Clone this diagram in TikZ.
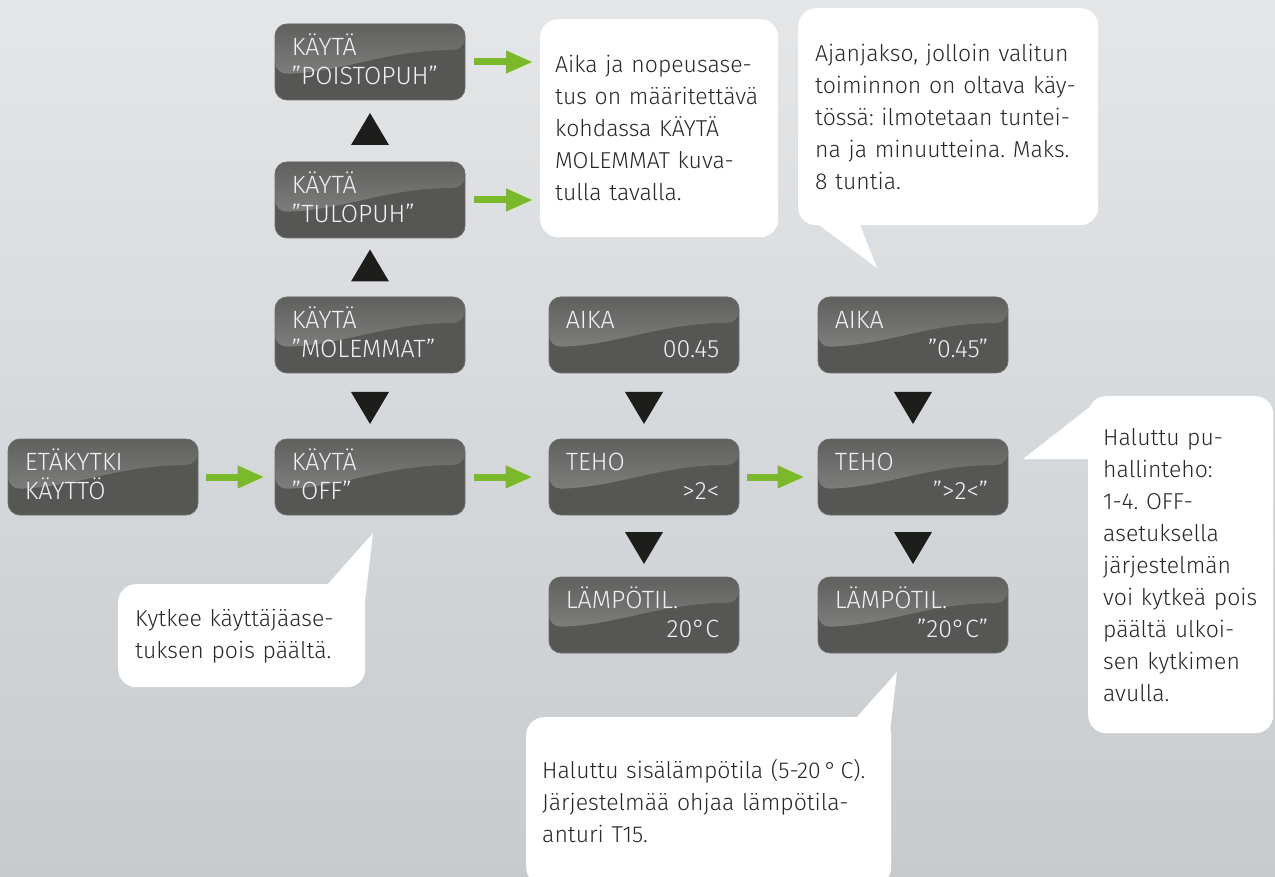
\documentclass[tikz,border=0pt]{standalone}
\usepackage{fontspec}
\setmainfont{Fira Sans Light}
\usetikzlibrary{calc,arrows.meta}
\definecolor{bgtop}{RGB}{228,230,232}
\definecolor{bgbot}{RGB}{199,203,206}
\definecolor{boxdark}{RGB}{86,86,85}
\definecolor{boxedge}{RGB}{110,110,109}
\definecolor{glosstop}{RGB}{96,96,95}
\definecolor{glossbot}{RGB}{140,140,139}
\definecolor{agreen}{RGB}{122,185,41}
\definecolor{tricol}{RGB}{29,29,27}
\definecolor{ctext}{RGB}{40,40,40}
\tikzset{
  dbox/.style={draw=boxedge, line width=0.8pt, fill=boxdark, rounded corners=12pt,
    minimum width=190pt, minimum height=76pt, inner sep=0pt,
    path picture={
      \shade[top color=glosstop, bottom color=glossbot]
        (path picture bounding box.north west) -- (path picture bounding box.north east)
        -- ($(path picture bounding box.north east)+(0,26)$)
        .. controls +(-80,0) and +(70,-2) .. ($(path picture bounding box.north west)+(0,50)$)
        -- cycle;
    }},
  dtext/.style={text=white!94!black, font=\fontsize{25}{28}\selectfont, inner sep=0pt},
  garrow/.style={draw=agreen, line width=7pt, -{Triangle[length=27pt,width=21pt]}},
  cbox/.style={fill=white, rounded corners=18pt, inner ysep=0pt, align=left,
    text=ctext, font=\fontsize{23}{32}\selectfont\frenchspacing, anchor=north west},
  ctail/.style={fill=white},
  pics/tup/.style={code={\fill[tricol] (-19,16) -- (19,16) -- (0,-16) -- cycle;}},
  pics/tdown/.style={code={\fill[tricol] (-19,-16) -- (19,-16) -- (0,16) -- cycle;}}
}
\newcommand\dispL[5]{%
  \node[dbox] (#1) at (#2+95,#3+38) {};
  \node[dtext, anchor=base west] (#1-a) at ($(#1.north west)+(17,32)$) {#4};
  \node[dtext, anchor=base west] (#1-b) at ($(#1.north west)+(17,61)$) {#5};
}
\newcommand\dispR[5]{%
  \node[dbox] (#1) at (#2+95,#3+38) {};
  \node[dtext, anchor=base west] (#1-a) at ($(#1.north west)+(17,32)$) {#4};
  \node[dtext, anchor=base east] (#1-b) at ($(#1.north east)+(-20,61)$) {#5};
}
\begin{document}
\begin{tikzpicture}[x=1pt,y=-1pt]
\useasboundingbox (0,0) rectangle (1275,877);
\shade[top color=bgtop, bottom color=bgbot] (0,0) rectangle (1275,877);

% callout tails
\fill[ctail] (848,727) -- (897,672) -- (889,740) -- cycle;
\fill[ctail] (320,593) -- (373,533) -- (364,610) -- cycle;
\fill[ctail] (800,211) -- (877,268) -- (856,215) -- cycle;
\fill[ctail] (1100,399) -- (1023,459) -- (1100,459) -- cycle;

% callouts
\node[cbox, inner xsep=15pt, text width=208pt, minimum height=218pt] (c1) at (540,19)
  {Aika ja nopeusase-\\tus on määritettävä\\kohdassa KÄYTÄ\\MOLEMMAT kuva-\\tulla tavalla.};
\node[cbox, inner xsep=17pt, text width=266pt, minimum height=217pt] (c2) at (798,8)
  {Ajanjakso, jolloin valitun\\toiminnon on oltava käy-\\tössä: ilmotetaan tuntei-\\na ja minuutteina. Maks.\\8 tuntia.};
\node[cbox, inner xsep=17pt, text width=213pt, minimum height=103pt] (c3) at (118,584)
  {Kytkee käyttäjäase-\\tuksen pois päältä.};
\node[cbox, inner xsep=16pt, text width=333pt, minimum height=168pt] (c4) at (526,717)
  {Haluttu sisälämpötila (5-20\,°\,C).\\Järjestelmää ohjaa lämpötila-\\anturi T15.};
\node[cbox, inner xsep=15pt, text width=155pt, minimum height=337pt] (c5) at (1088,396)
  {Haluttu pu-\\hallinteho:\\1-4. OFF-\\asetuksella\\järjestelmän\\voi kytkeä pois\\päältä ulkoi-\\sen kytkimen\\avulla.};

% display boxes
\dispL{etak}{8}{439}{ETÄKYTKI}{KÄYTTÖ}
\dispL{poisto}{275}{24}{KÄYTÄ}{”POISTOPUH”}
\dispL{tulo}{275}{162}{KÄYTÄ}{”TULOPUH”}
\dispL{molem}{275}{297}{KÄYTÄ}{”MOLEMMAT”}
\dispL{off}{275}{439}{KÄYTÄ}{”OFF”}
\dispR{aikaA}{549}{297}{AIKA}{00.45}
\dispR{tehoA}{549}{439}{TEHO}{>2<}
\dispR{tempA}{549}{577}{LÄMPÖTIL.}{20°C}
\dispR{aikaB}{818}{297}{AIKA}{”0.45”}
\dispR{tehoB}{818}{439}{TEHO}{”>2<”}
\dispR{tempB}{818}{577}{LÄMPÖTIL.}{”20°C”}

% triangles
\pic at ($(poisto.south)!0.5!(tulo.north)+(0,-2)$) {tup};
\pic at ($(tulo.south)!0.5!(molem.north)+(0,-2)$) {tup};
\pic at ($(molem.south)!0.5!(off.north)+(0,2)$) {tdown};
\pic at ($(aikaA.south)!0.5!(tehoA.north)+(0,2)$) {tdown};
\pic at ($(tehoA.south)!0.5!(tempA.north)+(0,2)$) {tdown};
\pic at ($(aikaB.south)!0.5!(tehoB.north)+(0,2)$) {tdown};
\pic at ($(tehoB.south)!0.5!(tempB.north)+(0,2)$) {tdown};

% green arrows
\draw[garrow, shorten <=9pt, shorten >=7pt] (poisto.east) -- (poisto.east -| c1.west);
\draw[garrow, shorten <=9pt, shorten >=7pt] (tulo.east) -- (tulo.east -| c1.west);
\draw[garrow, shorten <=8pt, shorten >=10pt] (etak.east) -- (off.west);
\draw[garrow, shorten <=9pt, shorten >=16pt] (off.east) -- (tehoA.west);
\draw[garrow, shorten <=8pt, shorten >=13pt] (tehoA.east) -- (tehoB.west);
\end{tikzpicture}
\end{document}
